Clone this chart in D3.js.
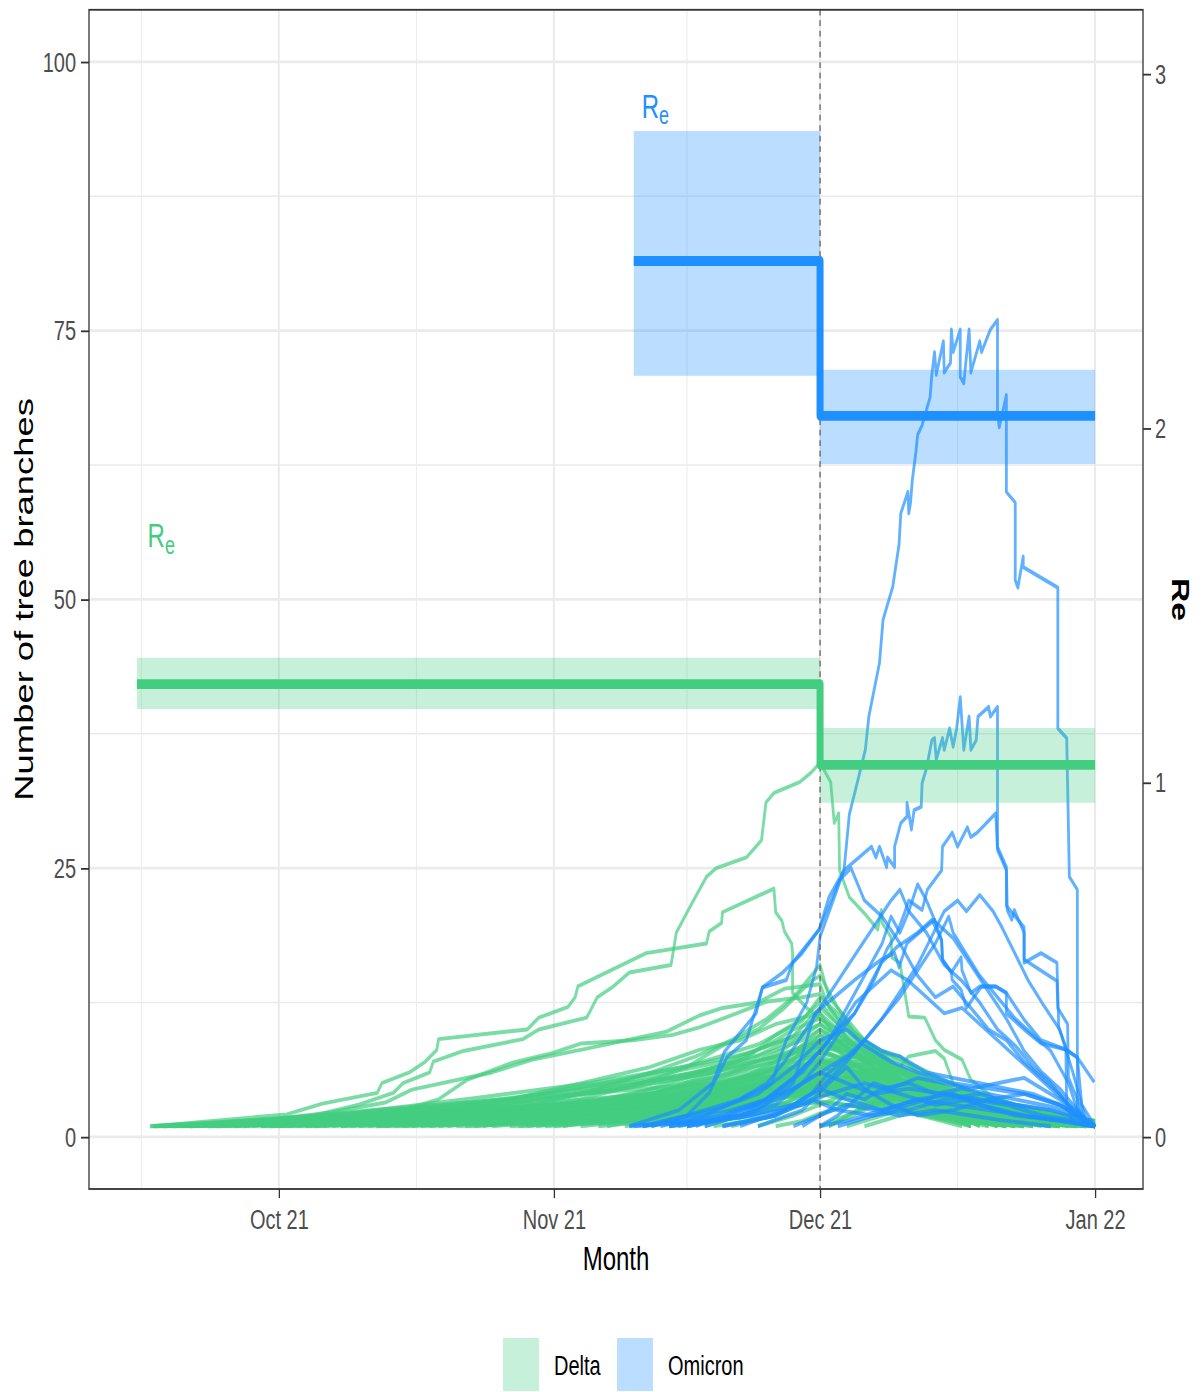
<!DOCTYPE html>
<html>
<head>
<meta charset="utf-8">
<title>Tree branches and Re</title>
<script src="https://d3js.org/d3.v7.min.js"></script>
<style>
  body { margin: 0; background: #fff; }
  svg text { font-family: "Liberation Sans", Arial, Helvetica, sans-serif; }
  .grid-major { stroke: #ebebeb; stroke-width: 2; }
  .grid-minor { stroke: #ebebeb; stroke-width: 1; }
  .axis .tick text { fill: #4d4d4d; font-size: 20px; }
  .axis .tick line { stroke: #333; stroke-width: 1.3; }
  .lineage { fill: none; stroke-width: 2.8; stroke-linejoin: round; }
</style>
</head>
<body>
<script>
// days are counted from 15 Sep 2021
var monthTickDays = [16, 47, 77, 108];
var monthLabels = ["Oct 21", "Nov 21", "Dec 21", "Jan 22"];
var minorTickDays = [0.5, 31.5, 62, 92.5];
var branchTicks = [0, 25, 50, 75, 100];
var branchMinor = [12.5, 37.5, 62.5, 87.5];
var reTicks = [0, 1, 2, 3];

// Re steps: [start day, Re, low, high]; last row closes the step
var deltaRe = [[0, 1.278, 1.208, 1.352], [77, 1.05, 0.943, 1.154], [108, 1.05, 0.943, 1.154]];
var omicronRe = [[56, 2.472, 2.148, 2.839], [77, 2.035, 1.899, 2.165], [108, 2.035, 1.899, 2.165]];
var reLabels = [["Delta", 1.2, 1.664], ["Omicron", 56.9, 2.877]];

var deltaLineages = [
  [[5,1],[12,1.5],[20,2],[25,3],[28.9,4.1],[30,5],[33,6],[33.4,7],[36.8,8],[43.5,9.1],[45.3,10],[50.7,11.1],[51.9,13],[53.7,14],[55.5,15.3],[60.2,16],[60.8,19],[62.6,21.8],[64.2,24.2],[65.3,25],[68.7,26],[70.4,27.6],[70.9,31.1],[71.8,32],[74.7,33],[76,33.9],[77,34.8],[78.2,33],[78.6,29.2],[79.1,30.1],[79.2,24.8],[80.3,22.3],[82,20.8],[83.5,19.3],[83.9,21.1],[84,19.9],[85,18.6],[85.1,16.7],[86,16.2],[87,11.2],[88.8,11.1],[90,9],[91,8.1],[93,7.2],[94,5.3],[96,4],[98,2.5],[100,1]],
  [[1.8,1],[16.9,2.1],[20.9,3.1],[27.1,4.1],[27.6,5],[30.7,6],[32.5,7],[33.8,8.1],[34,9.1],[44,10],[45.3,11.1],[48.6,12.1],[49.4,13],[49.7,14],[57.4,17.1],[64.2,18],[64.5,19.1],[65.9,19.9],[66,20.9],[71.8,23.1],[72,20.9],[72.7,20.1],[73,19.1],[73.8,18],[73.9,17.1],[73.9,13.4],[75.5,12],[77,11],[79,10],[81,8.5],[84,6.5],[88,4],[93,2],[98,1]],
  [[3,1],[14,1.5],[22,2.3],[28,3.2],[31,4.4],[40,6],[44.6,7.2],[50,8.1],[53.5,8.7],[59.7,9.8],[63.4,11.3],[66,12],[70,12.5],[73,13.8],[77,14.2],[78,12],[80,10],[83,8],[86,6],[90,4],[95,2],[99,1]],
  [[8,1],[20,1.6],[30,2.5],[34,3.5],[37.2,5.3],[42.3,6.9],[46.8,7.8],[50.1,8.7],[55.9,9],[60.4,9.5],[63.4,10.2],[67,11.3],[71,12.6],[75,13],[77,13.3],[79,11],[82,9],[85,7],[88,5],[93,3],[100,1]],
  [[12,1],[30,2],[42,3.5],[50.1,5],[57.8,6.5],[63.4,8.1],[68,9],[72,10.5],[77,11.5],[79,9],[83,6.5],[87,4.5],[92,2.5],[98,1]],
  [[20,1],[35,2],[45,3],[52,4.5],[58,6],[63,7.5],[67,9],[71,11],[74,13],[77,16],[78,13],[80,11],[82,9],[85,7],[88,5],[92,3],[97,1]],
  [[25,1],[40,2],[50,3.5],[57,5],[62,6.5],[66,8.5],[70,10],[73,12],[76,14.5],[77,15],[79,12],[81,9.5],[84,7.5],[87,6],[91,4],[95,2],[101,1]],
  [[30,1],[45,2],[54,3],[60,4.5],[65,6],[69,7.5],[72,9.5],[75,11],[77,12.5],[79,10.5],[81,8],[84,7],[86,5.5],[90,4],[94,2.5],[99,1]],
  [[15,1],[35,1.8],[48,2.8],[56,4],[62,5.5],[67,7],[71,8.5],[74,10],[77,11],[80,9],[83,8],[86,7.5],[88,6],[91,4.5],[95,3],[100,1]],
  [[77,4],[80,5],[83,6],[86,6.5],[87,7.5],[90,8],[91,7.3],[92,5],[95,3.5],[98,2],[103,1]],
  [[4,1],[30,1.5],[55,2.5],[70,3.5],[77,4.5],[82,3.5],[90,2],[98,1]],
  [[6,1],[35,2],[60,3],[72,4.5],[77,6],[83,4.5],[90,2.5],[97,1]],
  [[9,1],[40,2],[62,3.5],[74,5.5],[77,7],[81,6],[86,4],[92,2],[99,1]],
  [[11,1],[45,2.5],[65,4],[75,6.5],[77,8],[80,7],[85,5],[91,3],[96,1]],
  [[14,1],[38,1.5],[58,2.8],[70,4.2],[77,5.2],[84,4],[93,2.2],[103,1]],
  [[17,1],[44,2.2],[63,3.8],[73,5.5],[77,6.5],[81,7.5],[85,6],[90,3.5],[95,1.5],[100,1]],
  [[19,1],[46,1.8],[66,3],[75,4],[77,4.5],[83,5.5],[88,4.5],[94,2.5],[101,1]],
  [[22,1],[48,2.5],[64,4.5],[72,6.5],[77,8.5],[80,8],[84,6.5],[88,4],[93,2],[97,1]],
  [[24,1],[50,2],[66,3.2],[74,5],[77,6],[82,6.8],[86,5.2],[91,3.5],[97,1.5],[104,1]],
  [[27,1],[52,2.2],[67,3.5],[76,5],[77,5.5],[79,6.5],[84,5.5],[89,3],[95,1]],
  [[29,1],[50,1.5],[62,2.4],[71,3.6],[77,4.2],[82,3.4],[88,2.2],[94,1]],
  [[32,1],[54,2],[68,3.5],[75,5],[77,7.5],[79,9],[82,7],[86,5],[90,3],[95,1]],
  [[34,1],[56,2.5],[68,4.2],[74,6],[77,9],[80,8.5],[83,6.5],[87,4.5],[92,2.5],[98,1]],
  [[36,1],[55,1.8],[66,2.8],[73,4],[77,5],[82,5.5],[87,4],[92,2.5],[99,1]],
  [[38,1],[58,2.5],[69,4],[75,5.8],[77,6.5],[80,6],[85,4.5],[90,3],[96,1.5],[104,1]],
  [[40,1],[60,2.2],[70,3.6],[76,5.2],[77,5.8],[81,4.5],[85,3],[90,2],[96,1]],
  [[42,1],[59,1.8],[69,3],[75,4.6],[77,5.2],[83,6],[87,5],[92,3],[97,1]],
  [[45,1],[62,2.5],[71,4.5],[76,7],[77,8],[79,7.5],[82,6],[86,4],[90,2.5],[94,1]],
  [[47,1],[63,2],[72,3.5],[76,5.5],[77,6.5],[81,7],[85,5.5],[89,3.5],[94,2],[100,1]],
  [[50,1],[64,2.2],[71,3.3],[75,4.5],[77,5],[80,4],[86,2.5],[93,1]],
  [[52,1],[65,2],[72,3.5],[77,5.5],[79,6.2],[83,5],[88,3.5],[95,2],[102,1]],
  [[55,1],[66,2.5],[72,4],[75,5.5],[77,7],[80,6.5],[84,5],[88,3],[94,1]],
  [[57,1],[68,2],[73,3.2],[77,4.5],[80,5],[84,4.2],[90,2.8],[96,1.5],[106,1]],
  [[60,1],[68,1.8],[74,3],[77,4],[81,4.8],[86,4],[91,2.5],[98,1]],
  [[62,1],[70,2.2],[75,3.8],[77,5],[79,6],[82,5.2],[86,3.5],[92,2],[99,1]],
  [[65,1],[71,1.8],[75,3],[77,3.8],[81,4.5],[85,4],[90,2.8],[95,1.5],[101,1]],
  [[67,1],[72,2],[76,3.5],[77,4],[80,3.5],[85,2.5],[92,1.5],[100,1]],
  [[70,1],[74,2],[77,3],[80,4],[84,3.5],[88,2.5],[95,1.5],[107,1]],
  [[72,1],[75,1.5],[77,2.2],[81,3],[86,3.5],[90,3],[95,2],[103,1]],
  [[2,1],[25,1.3],[50,1.8],[65,2.5],[74,3],[77,3.3],[85,2.5],[95,1.5],[108,1]],
  [[5,1],[28,1.5],[48,2.2],[62,3],[71,3.8],[77,4.3],[83,3.8],[92,2.5],[100,1.5],[108,1]],
  [[13,1],[33,1.6],[52,2.6],[64,3.6],[72,4.6],[77,5.2],[82,4.8],[88,3.5],[97,2],[105,1]],
  [[18,1],[37,1.8],[55,2.8],[67,4.8],[74,6.5],[77,7.2],[80,6.5],[83,5],[87,3.5],[93,2],[100,1]],
  [[26,1],[42,1.8],[57,3],[68,5],[74,7.2],[77,9.5],[79,8],[82,6],[85,4],[89,2.5],[94,1]],
  [[33,1],[47,2],[60,3.5],[69,5.8],[74,7.8],[77,10],[79,9],[81,7.5],[84,6],[88,4],[93,2],[98,1]],
  [[37,1],[52,1.6],[63,2.8],[71,4.2],[77,6],[82,5.2],[87,4.2],[92,2.8],[99,1.5],[107,1]],
  [[43,1],[57,1.6],[67,2.6],[74,4],[77,4.8],[81,5.8],[84,6.5],[87,5],[90,3.5],[96,2],[104,1]],
  [[77,1],[80,2],[83,3],[86,3.5],[89,3],[93,2],[99,1.5],[106,1]],
  [[78,1],[82,2.5],[85,4],[88,5],[91,4.5],[94,3.5],[98,2],[104,1]],
  [[80,1],[84,2],[88,3],[91,3.5],[95,3],[100,2],[107,1]],
  [[3,1],[20,1.8],[40,3],[55,4.5],[65,6],[72,7.5],[77,9],[80,8],[84,6],[90,4],[97,2.5],[105,1.5],[108,1]],
  [[6,1],[22,2],[42,3.5],[57,5.5],[66,7],[73,9],[77,10.5],[79,9.5],[82,8],[86,6],[91,4],[98,2.5],[106,1]],
  [[10,1],[25,1.8],[45,3.2],[58,5],[68,6.5],[74,8],[77,9.5],[81,8.5],[85,6.5],[90,4.5],[96,3],[103,2],[108,1]],
  [[16,1],[30,2],[47,3.8],[60,5.5],[69,7.2],[75,9],[77,10],[79,8.8],[83,7],[88,5],[94,3.5],[101,2],[108,1]],
  [[21,1],[34,2.2],[50,4],[62,5.8],[70,7.6],[75,9.5],[77,11.5],[79,10],[82,8.2],[86,6.5],[92,4.5],[99,2.5],[107,1]],
  [[23,1],[36,1.8],[52,3.2],[63,4.8],[71,6.4],[76,8],[77,8.5],[80,9],[83,7.5],[87,5.5],[93,3.5],[100,2],[108,1]],
  [[28,1],[39,2],[53,3.6],[64,5.4],[72,7],[76,8.6],[77,9],[81,7.8],[85,6.2],[89,5],[95,3.2],[102,2],[108,1.5]],
  [[31,1],[41,1.8],[55,3.2],[65,4.8],[72,6.2],[77,7.8],[80,7.2],[84,5.6],[88,4.4],[93,3],[100,2],[107,1]],
  [[35,1],[44,2],[56,3.6],[66,5.6],[73,7.4],[77,8.8],[79,8],[82,6.8],[86,5.4],[91,4],[97,2.8],[104,1.8],[108,1]],
  [[39,1],[48,2.2],[58,4],[67,6],[73,8.2],[77,10.5],[78,9.8],[81,8.4],[85,6.8],[90,5],[96,3.2],[103,2],[108,1]],
  [[44,1],[52,2],[60,3.5],[68,5.2],[74,7],[77,8],[80,8.6],[84,7],[88,5.4],[93,3.8],[99,2.4],[106,1.5],[108,1]],
  [[48,1],[55,2],[62,3.2],[69,4.8],[75,6.6],[77,7.4],[81,6.6],[86,5],[91,3.6],[97,2.4],[104,1.4],[108,1]],
  [[53,1],[59,2],[65,3.4],[71,5.2],[75,7],[77,8.2],[79,7.4],[83,6],[87,4.6],[92,3.4],[98,2.2],[105,1.2]],
  [[58,1],[63,2.2],[68,3.6],[72,5],[76,6.8],[77,7.2],[80,6.4],[84,5.4],[89,4],[94,3],[100,2],[107,1]],
  [[64,1],[68,2],[72,3.4],[75,4.8],[77,5.6],[80,6.2],[84,5],[88,4],[93,3.2],[98,2.4],[104,1.6],[108,1]],
  [[7,1],[24,2.2],[38,3.6],[51,5],[61,6.4],[69,7.8],[74,9.4],[77,12],[79,10.5],[82,8.5],[86,7],[90,5.5],[95,4],[101,2.5],[108,1.5]],
  [[12,1],[27,2],[41,3.4],[54,5.2],[63,6.8],[70,8.6],[75,10.8],[77,13],[79,11.5],[81,9.5],[84,8],[88,6.5],[93,4.5],[99,3],[106,1.5]],
  [[1.5,1],[18,1.8],[33,2.8],[46,4],[57,5.2],[66,6.4],[73,7.6],[77,8.4],[81,7.6],[86,6],[92,4.4],[98,3],[104,2],[108,1.5]],
  [[9,1],[26,1.6],[43,2.6],[56,3.8],[65,5],[72,6.2],[77,7],[82,6.4],[88,4.8],[94,3.4],[100,2.4],[106,1.6],[108,1]],
  [[20,1],[33,1.6],[47,2.6],[59,3.8],[68,5],[74,6.2],[77,6.8],[80,7.6],[84,7],[88,5.6],[93,4],[99,2.6],[105,1.6],[108,1]],
  [[4,1],[21,1.5],[39,2.2],[54,3],[64,3.8],[71,4.6],[77,5.4],[83,4.6],[90,3.4],[97,2.4],[104,1.6],[108,1]],
  [[15,1],[31,1.4],[47,2],[60,2.8],[70,3.6],[77,4.4],[84,3.8],[92,2.8],[100,2],[108,1.2]],
  [[27,1],[40,1.4],[53,2],[64,2.8],[72,3.6],[77,4],[82,4.4],[88,3.6],[95,2.6],[102,1.8],[108,1]],
  [[46,1],[56,1.6],[65,2.4],[72,3.4],[77,4.6],[81,4],[87,3],[94,2.2],[101,1.6],[108,1]],
  [[78,1],[81,2.4],[84,3.8],[87,4.6],[90,4],[93,3.4],[97,2.6],[102,2],[108,1.2]],
  [[82,1],[86,2],[90,2.8],[94,3.2],[98,2.6],[103,2],[108,1.2]],
  [[2,1],[30,1.6],[55,2.4],[72,3],[77,3.2],[90,2.2],[108,1]],
  [[3,1],[26,2],[44,2.8],[60,3.6],[72,4.4],[77,4.8],[86,3.6],[97,2.2],[108,1]],
  [[6,1],[32,2.2],[50,3.2],[64,4.2],[74,5],[77,5.4],[85,4.4],[95,3],[105,1.6]],
  [[8,1],[22,1.4],[38,2.4],[52,3],[66,3.8],[77,4.6],[88,3.4],[100,2],[108,1]],
  [[11,1],[29,2.4],[43,3],[58,4],[70,5.2],[77,6],[84,5],[92,3.6],[101,2.2],[108,1.2]],
  [[14,1],[24,1.6],[40,2.6],[56,3.4],[68,4.4],[77,5.2],[83,4.6],[91,3.2],[99,2],[108,1]],
  [[16,1],[35,2],[51,3.2],[63,4],[73,5.2],[77,5.6],[81,5],[89,3.8],[98,2.4],[107,1.4]],
  [[19,1],[31,1.8],[45,2.8],[59,3.4],[70,4.2],[77,4.8],[85,4],[94,2.8],[104,1.8],[108,1]],
  [[23,1],[38,2],[54,2.8],[66,3.6],[74,4.6],[77,5],[87,3.8],[96,2.6],[106,1.4]],
  [[1.5,1],[15,1.6],[28,2.6],[40,3.4],[53,4.2],[65,5],[73,5.8],[77,6.4],[83,5.6],[90,4.2],[99,2.6],[108,1.4]]
];

var omicronLineages = [
  [[55.5,1],[61.1,2.5],[64.9,5],[66.2,7.9],[69.8,11.5],[70.5,13.9],[73.2,14.6],[73.9,16.2],[76.9,19.3],[78,22.3],[79.7,24.8],[80.3,30],[81,32.3],[82.1,36],[82.5,39.1],[83.7,44.1],[84.1,48.1],[85.2,51.2],[85.7,54],[85.9,55.1],[86.1,58],[86.9,60],[87,58],[87.2,59],[87.4,61.1],[87.8,63.7],[88,65.3],[88.5,66.2],[89.4,68.8],[89.6,70.9],[89.9,73],[90.1,70.9],[90.9,74],[91,71.1],[91.7,72],[91.8,75.1],[92,73],[92.8,75.1],[92.8,70.7],[93.2,70.1],[93.8,75.1],[94,71.1],[95,74],[95.2,73],[96.2,75.1],[97,76],[97,67.3],[97.2,66],[98,69],[98,60],[99,59],[99,51.8],[99.3,51.1],[99.9,54],[99.9,53],[103.8,51.1],[103.8,38],[104.8,37.1],[105.1,24.2],[106,23],[106,2.8],[106.8,1.3],[107.9,1]],
  [[58,1],[64,2.5],[68,3.5],[71.6,5],[72.4,7.2],[73.2,9],[75.5,12.5],[76.6,15.8],[77,18.6],[79.7,24.8],[82.8,27],[83.3,26],[83.7,27],[84.5,25.1],[84.6,26],[85.4,25.1],[85.4,27],[86.1,29.2],[86.8,29.8],[86.8,31.1],[87.3,28.6],[87.6,30.4],[88.4,30.7],[88.5,32.9],[89,34.3],[89.6,36.9],[89.9,37.1],[90.1,35.1],[90.8,37.1],[91,36],[91.6,38],[92,36.3],[92.4,38],[92.8,40.9],[93.2,36],[93.8,39.1],[94,36],[94.6,36.9],[94.8,39.1],[96,40],[96.2,39.1],[97,40],[97,27],[98,25.1],[98.1,21.1],[98.6,20.2],[98.9,21.1],[100,19],[100,16.2],[101.9,17.1],[103.7,16.2],[103.9,10.2],[104.7,8.4],[104.8,2.8],[105.6,1.3],[108,1]],
  [[62,1],[68,2],[72,3],[75,5],[77,7],[79,9.5],[80.9,11.5],[82,13],[83.1,14.6],[84.5,17.4],[85.7,19],[86.5,20.8],[87,22],[88.5,21.1],[89.1,23],[90.7,24.8],[90.8,27],[91.9,28.3],[92.5,27],[93.6,28.8],[94,27.9],[94.7,28.3],[96.8,30.1],[97,26.7],[98,24.8],[98,21.5],[100,19.5],[100,16.5],[103.7,14.5],[103.8,12],[104.9,10.5],[105,5.5],[106,3.5],[106.8,1.5],[108,1]],
  [[64,1],[70,2.5],[74,5],[76.4,11.5],[78.6,13],[80.9,14.6],[83.9,16.5],[85.4,17.1],[85.9,15.8],[86.8,18],[87.6,18.6],[89.9,20.2],[90.7,18.3],[90.8,16.5],[91.8,15.3],[91.9,14.6],[92.9,13.7],[93.5,12],[95.2,14],[96.8,14],[98,13.4],[98,11.5],[100,10],[101.9,8.7],[104.8,8.1],[106,7.4],[107.9,5.1]],
  [[66,1],[72,2],[76,4],[78,6],[81,8],[84,11],[86,13.5],[88,16],[89.5,18.5],[91,21],[92.5,22],[93.5,21],[95,22.5],[96.5,21],[97.5,19.5],[99,17],[100.5,14.5],[102,12.5],[104,10],[105.5,6],[106.5,3],[108,1]],
  [[63,1],[70,3],[74,5.5],[77,8],[79,10],[80.9,11.5],[83.9,16.2],[85.7,17.7],[88,19],[89.6,20.2],[90.7,18.3],[90.8,16.5],[91.8,15.3],[92.9,16.7],[93,15.5],[94,13.4],[95,14],[96.8,14],[98,13.4],[100,10.9],[101.9,9],[104.8,8.1],[106,7.4],[106.5,3],[107,1.5],[108,1]],
  [[68,1],[73,2.5],[77,4.5],[80,7],[83,10],[86,13],[88,15.5],[90,18],[91.5,20.5],[92,19],[93.5,17],[95,15],[97,13],[99,11],[101,9.5],[103,8],[105,5],[106,2.5],[107,1]],
  [[60,1],[66,2],[71,3.5],[75,6],[78,9],[80,12],[82,15],[84,18],[85,20.5],[86,19],[87,21],[88,23.5],[89,22],[90,20],[92,18.5],[94,16],[96,13.5],[98,11],[100,8],[102,6],[104,4.5],[106,2.5],[108,1]],
  [[56,1],[64,1.5],[70,2],[75,3],[78,4],[82,5],[86,4],[90,3],[94,3.5],[98,3],[102,2],[106,1.5],[108,1]],
  [[60,1],[68,1.8],[74,3],[77,4.5],[80,3.5],[84,2.5],[88,3.5],[92,4],[95,3],[99,2],[104,1.5],[108,1]],
  [[66,1],[72,2],[76,3.5],[79,2.5],[83,2],[87,3],[91,4],[95,3.5],[99,3],[103,2.5],[106,2],[108,1]],
  [[70,1],[75,2.5],[78,5],[80,6.5],[82,4.5],[85,3],[88,2],[92,2.5],[96,3.5],[100,4],[104,3],[107,1.5],[108,1]],
  [[74,1],[77,2],[80,3],[83,2.5],[86,2],[90,2.5],[94,2],[98,1.5],[103,1]],
  [[77,1],[80,1.5],[84,2.5],[88,3.5],[92,3],[96,2.5],[100,2],[104,1.5],[108,1]],
  [[79,1],[83,2],[87,2.5],[91,3.5],[95,4],[99,3],[103,2.5],[107,1.5],[108,1]],
  [[57,1],[65,2.5],[70,4],[74,6.5],[77,9],[80,10],[82,8.5],[85,7],[88,6],[92,5],[96,4.5],[100,4],[104,3],[107,1.5],[108,1]],
  [[62,1],[68,2],[72,3.5],[75,5],[77,6],[80,5],[83,4],[87,4.5],[91,4],[95,3],[100,2],[105,1.5],[108,1]],
  [[57,1],[62,2],[64.5,4.1],[66.5,7.4],[68.7,9],[70.5,13.9],[72.8,15.3],[74.9,17],[76.9,19.3],[79.2,23.9],[80.5,25],[82,22],[84,20.5],[86,18],[88,15],[90,13],[92,14],[94,12],[96,10],[98,9],[100,7],[102,5.5],[104,4],[106,2],[108,1]],
  [[59,1],[64,2],[68,3.5],[71,5],[73,7],[75,9.5],[77,12],[79,14.5],[81,17],[83,19.5],[85,22],[86,23],[87,21],[89,19],[91,16],[93,14.5],[95,12.5],[97,10],[99,8.5],[101,6.5],[103,5],[105,3],[107,1.5],[108,1]],
  [[61,1],[67,2],[71,3.5],[74,5.5],[77,8],[79,10],[81,12.5],[83,14],[85,15.5],[87,14.5],[89,13],[91,11.5],[93,12],[95,10.5],[97,9],[99,7.5],[101,6],[103,4.5],[105,3],[107,1.5],[108,1]],
  [[55.5,1],[62,1.5],[67,2.5],[71,3.5],[74,4.5],[77,6],[80,7.5],[82,9],[84,8],[86,7.5],[89,6],[92,5.5],[95,5],[98,4.5],[101,4],[104,3],[107,1.5],[108,1]],
  [[77,1],[79,2],[81,3.5],[83,5],[85,4.5],[88,5.5],[91,5],[94,4.5],[97,5],[100,5.5],[102,4.5],[104,3.5],[106,2],[108,1]],
  [[75,1],[78,2.5],[80,4],[82,3.5],[84,4.5],[87,5],[90,4],[93,4.5],[96,4],[99,3.5],[102,3],[105,2.5],[107,1.5],[108,1]]
];

var deltaColour = "#43CD80", omicronColour = "#1E90FF";

// the reference image is stretched vertically, so draw in a squat box and stretch it
var stretch = 1.4;
var W = 1203, H = 1392 / stretch;
var margin = { top: 7, right: 60, bottom: 145, left: 89 },
    width = W - margin.left - margin.right,
    height = H - margin.top - margin.bottom;

var base = Date.UTC(2021, 8, 15);
function dayDate(d) { return new Date(base + d * 864e5); }

var svg0 = d3.select("body").append("svg")
    .attr("width", W)
    .attr("height", 1392)
    .attr("viewBox", "0 0 " + W + " " + H)
    .attr("preserveAspectRatio", "none");

var svg = svg0.append("g")
    .attr("transform", "translate(" + margin.left + "," + margin.top + ")");

var x = d3.scaleUtc().domain([dayDate(-5.4), dayDate(113.4)]).range([0, width]);
var y = d3.scaleLinear().domain([-4.84, 104.84]).range([height, 0]);
var yRe = d3.scaleLinear().domain([-0.147, 3.181]).range([height, 0]);

// grid
svg.selectAll(".gminy").data(branchMinor).enter().append("line")
    .attr("class", "grid-minor").attr("x1", 0).attr("x2", width)
    .attr("y1", d => y(d)).attr("y2", d => y(d));
svg.selectAll(".gminx").data(minorTickDays).enter().append("line")
    .attr("class", "grid-minor").attr("y1", 0).attr("y2", height)
    .attr("x1", d => x(dayDate(d))).attr("x2", d => x(dayDate(d)));
svg.selectAll(".gmajy").data(branchTicks).enter().append("line")
    .attr("class", "grid-major").attr("x1", 0).attr("x2", width)
    .attr("y1", d => y(d)).attr("y2", d => y(d));
svg.selectAll(".gmajx").data(monthTickDays).enter().append("line")
    .attr("class", "grid-major").attr("y1", 0).attr("y2", height)
    .attr("x1", d => x(dayDate(d))).attr("x2", d => x(dayDate(d)));

// lineage trajectories
var branchLine = d3.line().x(p => x(dayDate(p[0]))).y(p => y(p[1]));

svg.selectAll(".delta").data(deltaLineages).enter().append("path")
    .attr("class", "lineage")
    .attr("stroke", deltaColour).attr("stroke-opacity", 0.7)
    .attr("d", branchLine);

svg.selectAll(".omicron").data(omicronLineages).enter().append("path")
    .attr("class", "lineage")
    .attr("stroke", omicronColour).attr("stroke-opacity", 0.7)
    .attr("d", branchLine);

// Re ribbons and steps
var reArea = d3.area().curve(d3.curveStepAfter)
    .x(p => x(dayDate(p[0]))).y0(p => yRe(p[2])).y1(p => yRe(p[3]));
var reLine = d3.line().curve(d3.curveStepAfter)
    .x(p => x(dayDate(p[0]))).y(p => yRe(p[1]));

[[deltaRe, deltaColour], [omicronRe, omicronColour]].forEach(function (s) {
    svg.append("path").attr("d", reArea(s[0]))
        .attr("fill", s[1]).attr("fill-opacity", 0.3);
});

svg.append("line")
    .attr("x1", x(dayDate(77))).attr("x2", x(dayDate(77)))
    .attr("y1", 0).attr("y2", height)
    .attr("stroke", "#666").attr("stroke-width", 1.3)
    .attr("stroke-dasharray", "4,3.5");

[[deltaRe, deltaColour], [omicronRe, omicronColour]].forEach(function (s) {
    svg.append("path").attr("d", reLine(s[0]))
        .attr("fill", "none").attr("stroke", s[1])
        .attr("stroke-width", 7).attr("stroke-linejoin", "round");
});

// R_e labels
reLabels.forEach(function (l) {
    var t = svg.append("text")
        .attr("x", x(dayDate(l[1]))).attr("y", yRe(l[2]))
        .attr("fill", l[0] === "Delta" ? deltaColour : omicronColour)
        .style("font-size", "24px");
    t.append("tspan").text("R");
    t.append("tspan").attr("dy", 4.5).style("font-size", "18px").text("e");
});

// panel border
svg.append("rect").attr("width", width).attr("height", height)
    .attr("fill", "none").attr("stroke", "#333").attr("stroke-width", 1.3);

// axes
svg.append("g").attr("class", "axis")
    .call(d3.axisLeft(y).tickValues(branchTicks).tickSize(8).tickPadding(5))
    .call(g => g.select(".domain").remove());

svg.append("g").attr("class", "axis")
    .attr("transform", "translate(" + width + ",0)")
    .call(d3.axisRight(yRe).tickValues(reTicks).tickFormat(d3.format("d")).tickSize(8).tickPadding(4))
    .call(g => g.select(".domain").remove());

svg.append("g").attr("class", "axis")
    .attr("transform", "translate(0," + height + ")")
    .call(d3.axisBottom(x).tickValues(monthTickDays.map(dayDate))
        .tickFormat((d, i) => monthLabels[i]).tickSize(6.5).tickPadding(8))
    .call(g => g.select(".domain").remove());

// titles
svg0.append("text")
    .attr("transform", "translate(33," + (margin.top + height / 2) + ") rotate(-90)")
    .attr("text-anchor", "middle").style("font-size", "26px")
    .text("Number of tree branches");

svg0.append("text")
    .attr("transform", "translate(1172," + (margin.top + height / 2) + ") rotate(90)")
    .attr("text-anchor", "middle").style("font-size", "24px").style("font-weight", "bold")
    .text("Re");

svg0.append("text")
    .attr("x", margin.left + width / 2).attr("y", 907)
    .attr("text-anchor", "middle").style("font-size", "24px")
    .text("Month");

// legend
var legendItems = [["Delta", deltaColour, 503], ["Omicron", omicronColour, 617]];
legendItems.forEach(function (l) {
    svg0.append("rect").attr("x", l[2]).attr("y", 955.7).attr("width", 36).attr("height", 37.9)
        .attr("fill", l[1]).attr("fill-opacity", 0.3);
    svg0.append("text").attr("x", l[2] + 51).attr("y", 982.5)
        .style("font-size", "20px").text(l[0]);
});
</script>
</body>
</html>
